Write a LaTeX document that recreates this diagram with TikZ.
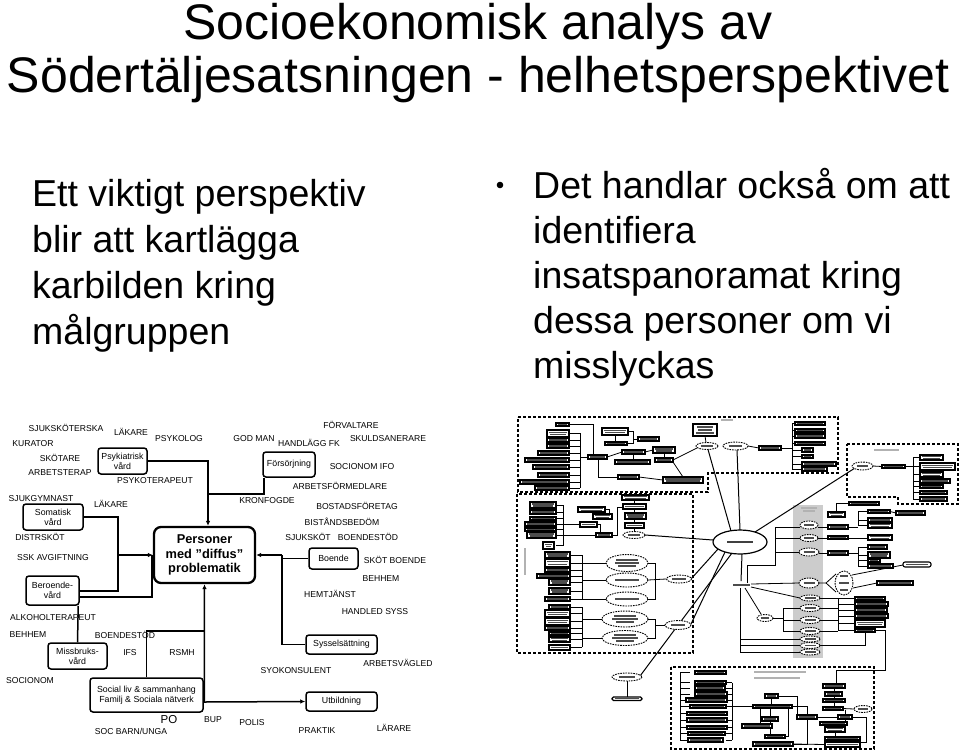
\documentclass[tikz,border=0pt]{standalone}
\usepackage{fontspec}
\setmainfont{Liberation Sans}
\usetikzlibrary{arrows.meta,calc}
\tikzset{
  lbl/.style={font=\fontsize{8.6}{9}\selectfont, inner sep=0pt},
  sbox/.style={draw, line width=1.5pt, rounded corners=3pt, align=center, inner sep=0pt, font=\fontsize{8.8}{10}\selectfont},
  conn/.style={line width=1.5pt},
  arr/.style={line width=1.5pt, -{Latex[length=5pt,width=4.5pt]}},
  bigtxt/.style={font=\fontsize{37.5}{45}\selectfont, inner sep=0pt, anchor=base west},
  ttl/.style={font=\fontsize{50}{55}\selectfont, inner sep=0pt, anchor=base},
  rb/.style={draw, line width=1.1pt, fill=white},
  ph/.style={line width=1.1pt, black!70},
  de/.style={draw, dashed, dash pattern=on 1.6pt off 1pt, line width=0.9pt, fill=white},
  ln/.style={line width=0.8pt},
  reg/.style={line width=1.5pt, dash pattern=on 3pt off 2pt}
}
\newcommand\Rbx[4]{\draw[rb] (#1,#2) rectangle (#3,#4); \draw[ph] ({#1+1.8},{(#2+#4)/2}) -- ({#3-1.8},{(#2+#4)/2});}
\newcommand\Rbxb[4]{\draw[rb] (#1,#2) rectangle (#3,#4); \draw[ph] ({#1+1.8},{#2+(#4-#2)/3}) -- ({#3-1.8},{#2+(#4-#2)/3}); \draw[ph] ({#1+3},{#2+2*(#4-#2)/3}) -- ({#3-3},{#2+2*(#4-#2)/3});}
\newcommand\Dell[4]{\draw[de] (#1,#2) ellipse [x radius=#3, y radius=#4]; \draw[ph] ({#1-0.55*#3},#2) -- ({#1+0.55*#3},#2);}
\begin{document}
\begin{tikzpicture}[x=1pt,y=-1pt]
\fill[white] (0,0) rectangle (960,755);
\path[use as bounding box] (0,0) rectangle (960,755);

% ---------------- title and texts
\node[ttl] (t1) at (478,39) {Socioekonomisk analys av};
\node[ttl] (t2) at (478,92) {Södertäljesatsningen - helhetsperspektivet};

\node[bigtxt] (l1) at (32,206) {Ett viktigt perspektiv};
\node[bigtxt] (l2) at (32,252) {blir att kartlägga};
\node[bigtxt] (l3) at (32,298) {karbilden kring};
\node[bigtxt] (l4) at (32,344) {målgruppen};

\fill (500,185) circle [radius=3.3];
\node[bigtxt] (r1) at (533,198) {Det handlar också om att};
\node[bigtxt] (r2) at (533,243) {identifiera};
\node[bigtxt] (r3) at (533,288) {insatspanoramat kring};
\node[bigtxt] (r4) at (533,333) {dessa personer om vi};
\node[bigtxt] (r5) at (533,378) {misslyckas};

% ---------------- left diagram: boxes
\node[draw, line width=2.3pt, rounded corners=7pt, minimum width=101pt, minimum height=56pt, align=center,
      font=\bfseries\fontsize{12.8}{14.5}\selectfont, inner sep=0pt] (pers) at (204.5,555)
      {Personer\\med "diffus"\\problematik};
\node[sbox, minimum width=49pt, minimum height=26pt] (psyk) at (122.5,461) {Psykiatrisk\\vård};
\node[sbox, minimum width=60pt, minimum height=26pt] (som) at (53,517) {Somatisk\\vård};
\node[sbox, minimum width=53pt, minimum height=29pt] (ber) at (52.5,590.5) {Beroende-\\vård};
\node[sbox, minimum width=59pt, minimum height=26pt] (mis) at (77.5,656) {Missbruks-\\vård};
\node[sbox, minimum width=113pt, minimum height=34pt] (soc) at (146.5,695) {Social liv \& sammanhang\\Familj \& Sociala nätverk};
\node[sbox, minimum width=52pt, minimum height=25pt] (fors) at (289,464.5) {Försörjning};
\node[sbox, minimum width=49pt, minimum height=21pt] (boe) at (333.5,558.5) {Boende};
\node[sbox, minimum width=71pt, minimum height=19pt] (syss) at (341.5,644.5) {Sysselsättning};
\node[sbox, minimum width=71pt, minimum height=19pt] (utb) at (341.5,701.5) {Utbildning};

% junction points
\coordinate (jF) at (208,494);
\coordinate (jS) at (118,555);
\coordinate (jB) at (152,555);
\coordinate (jBo) at (282,555);
\coordinate (jSo) at (205,631);

% connectors
\draw[arr] (psyk.east) -| ([xshift=3.5]pers.north);
\draw[conn] ([xshift=1.5]fors.south west) |- (jF);
\draw[conn] (som.east) -| (jS);
\draw[arr] (jS) -- (pers.west);
\draw[conn] ([yshift=-0.5]ber.east) -| (jS);
\draw[conn] ([yshift=-6.5]ber.east) -| (jB);
\draw[conn] ([xshift=-1.5]ber.south east) -- (mis.north);
\draw[conn] (boe.west) -- ([yshift=-3.5]jBo);
\draw[conn] (syss.west) -| (jBo);
\draw[arr] (jBo) -- (pers.east);
\draw[conn] (soc.north) |- (jSo);
\draw[arr] ([xshift=0.5,yshift=-7]soc.east) -- (pers.south);
\draw[arr] ([yshift=-7]soc.east) -- (utb.west);

% labels
\node[lbl] (a1) at (66,428) {SJUKSKÖTERSKA};
\node[lbl] (a2) at (131,432) {LÄKARE};
\node[lbl] (a3) at (179,439) {PSYKOLOG};
\node[lbl] (a4) at (33,444) {KURATOR};
\node[lbl] (a5) at (60,458) {SKÖTARE};
\node[lbl] (a6) at (60,473) {ARBETSTERAP};
\node[lbl] (a7) at (155,481) {PSYKOTERAPEUT};
\node[lbl] (a8) at (254,439) {GOD MAN};
\node[lbl] (a9) at (309,443) {HANDLÄGG FK};
\node[lbl] (a10) at (351,425) {FÖRVALTARE};
\node[lbl] (a11) at (388,439) {SKULDSANERARE};
\node[lbl] (a12) at (362,467) {SOCIONOM IFO};
\node[lbl] (a13) at (340,486) {ARBETSFÖRMEDLARE};
\node[lbl] (a14) at (267,501) {KRONFOGDE};
\node[lbl] (a15) at (357,506) {BOSTADSFÖRETAG};
\node[lbl] (a16) at (342,522) {BISTÅNDSBEDÖM};
\node[lbl] (a17) at (308,537) {SJUKSKÖT};
\node[lbl] (a18) at (368,537) {BOENDESTÖD};
\node[lbl] (a19) at (395,560) {SKÖT BOENDE};
\node[lbl] (a20) at (381,579) {BEHHEM};
\node[lbl] (a21) at (330,594) {HEMTJÄNST};
\node[lbl] (a22) at (375,612) {HANDLED SYSS};
\node[lbl] (a23) at (398,663) {ARBETSVÄGLED};
\node[lbl] (a24) at (296,671) {SYOKONSULENT};
\node[lbl] (a25) at (317,731) {PRAKTIK};
\node[lbl] (a26) at (394,728) {LÄRARE};
\node[lbl] (a27) at (252,723) {POLIS};
\node[lbl] (a28) at (213,720) {BUP};
\node[lbl, font=\fontsize{11.5}{12}\selectfont] (a29) at (169,720) {PO};
\node[lbl] (a30) at (131,731) {SOC BARN/UNGA};
\node[lbl] (a31) at (30,681) {SOCIONOM};
\node[lbl] (a32) at (130,653) {IFS};
\node[lbl] (a33) at (182,653) {RSMH};
\node[lbl] (a34) at (125,635) {BOENDESTÖD};
\node[lbl] (a35) at (28,635) {BEHHEM};
\node[lbl] (a36) at (53,618) {ALKOHOLTERAPEUT};
\node[lbl] (a37) at (53,558) {SSK AVGIFTNING};
\node[lbl] (a38) at (40,537) {DISTRSKÖT};
\node[lbl] (a39) at (41,499) {SJUKGYMNAST};
\node[lbl] (a40) at (111,504) {LÄKARE};

% ---------------- right diagram (drawn directly)
\fill[gray!40] (793,505) rectangle (823,658);
\draw[reg] (518,417) -- (838,417) -- (838,473) -- (708,473) -- (708,492) -- (518,492) -- cycle;
\draw[reg] (517,494) rectangle (693,653);
\draw[reg] (847,444) -- (958,444) -- (958,504) -- (898,504) -- (898,497) -- (847,497) -- cycle;
\draw[reg] (671,667) rectangle (874,749);
% region labels (illegible text)
\draw[ph, gray!60] (721,420) -- (733,420);
\draw[ph, gray!60] (874,450) -- (899,450);
\draw[ph, gray!60, line width=1.3pt] (754,672) -- (806,672);
\draw[ph, gray!60, line width=1.3pt] (754,678) -- (800,678);
\draw[ph, gray!60] (525,548) -- (525,575);
\draw[ph, gray!60] (801,508) -- (817,508);
\draw[ph, gray!60] (803,511) -- (815,511);

% lines top region
\draw[ln] (580,433) -- (580,488);
\foreach \y in {433.5,440,446,453,460,467,475,482,488} {\draw[ln] (569,\y) -- (580,\y);}
\draw[ln] (580,457) -- (588,457);
\draw[ln] (569,424.5) -- (593,424.5) -- (593,455);
\draw[ln] (607,457) -- (622,452);
\draw[ln] (598,459) -- (598,477) -- (618,477);
\draw[ln] (639,477) -- (663,480);
\draw[ln] (615,435) -- (615,442);
\draw[ln] (627,431) -- (633,431) -- (633,443.5) -- (627,443.5);
\draw[ln] (633,439) -- (638,439);
\draw[ln] (633,454) -- (633,460);
\draw[ln] (645,452) -- (653,450);
\draw[ln] (664,453) -- (664,458);
\draw[ln] (673,460) -- (697,448);
\draw[ln] (683,477) -- (673,462);
\draw[ln] (705,436) -- (706,442.5);
\draw[ln] (748,446) -- (759,448);
\draw[ln] (781,448) -- (792,448);
\draw[ln] (792,423.5) -- (792,469);
\foreach \y in {423.5,430.5,436,443.5} {\draw[ln] (792,\y) -- (795,\y);}
\foreach \y in {450,456.5,464,469} {\draw[ln] (792,\y) -- (802,\y);}

% radiating lines from centre
\draw[ln, line width=1pt] (731,531) -- (708,449.5);
\draw[ln, line width=1pt] (740,530) -- (737,450);
\draw[ln, line width=1pt] (755,532) -- (855,468);
\draw[ln, line width=1pt] (713,540) -- (645,535);
\draw[ln, line width=1pt] (718,549) -- (691,579);
\draw[ln, line width=1pt] (725,552) -- (691,624);
\draw[ln, line width=1pt] (732,553) -- (640,676);
\draw[ln, line width=1pt] (742,554) -- (741,581);

% right region lines
\draw[ln] (873,466) -- (882,466.5);
\draw[ln] (905,466.5) -- (913,466.5);
\draw[ln] (913,457) -- (913,499);
\foreach \y in {457.5,466.5,474.5,481,486.5,492.5,499} {\draw[ln] (913,\y) -- (920,\y);}

% left-mid lines
\draw[ln] (634,500) -- (634,504);
\draw[ln] (634,509) -- (634,513);
\draw[ln] (634,519) -- (634,523);
\draw[ln] (634,528) -- (634,531.5);
\draw[ln] (563,505) -- (563,546);
\foreach \y in {505,512,518.5,524,529.5,535,545.5} {\draw[ln] (556,\y) -- (563,\y);}
\draw[ln] (563,524.5) -- (580,524.5);
\draw[ln] (563,535) -- (596,535);
\draw[ln] (597,524.5) -- (600,524.5) -- (600,533);
\draw[ln] (605,509.5) -- (609,509.5) -- (609,514);
\draw[ln] (612,535) -- (617,535) -- (617,507) -- (623,507);
\draw[ln] (582,555) -- (582,599);
\foreach \y in {555,563,570,576,582,591,599} {\draw[ln] (570,\y) -- (582,\y);}
\draw[ln] (582,563) -- (606,563);
\draw[ln] (582,580) -- (606,580);
\draw[ln] (582,599) -- (606,599);
\draw[ln] (582,607) -- (582,647);
\foreach \y in {607,613.5,621.5,628,633.5,639.5,647.5} {\draw[ln] (570,\y) -- (582,\y);}
\draw[ln] (582,619) -- (602,619);
\draw[ln] (582,638) -- (602,638);
\draw[ln] (648,563) -- (655,563) -- (655,599) -- (648,599);
\draw[ln] (648,580) -- (666,579);
\draw[ln] (648,619) -- (655,619) -- (655,638) -- (648,638);
\draw[ln] (655,625) -- (665,625);
\draw[ln] (627,681) -- (627,697);

% right / grey column lines
\draw[ln] (836,512) -- (836,503.5) -- (849,503.5);
\draw[ln] (818,527) -- (828,527);
\draw[ln] (848,527) -- (858,527);
\draw[ln] (858,511.5) -- (858,525.5);
\foreach \y in {511.5,520,525.5} {\draw[ln] (858,\y) -- (868,\y);}
\draw[ln] (890,511.5) -- (896,513);
\draw[ln] (818,538) -- (828,538);
\draw[ln] (848,538) -- (868,538);
\draw[ln] (819,553) -- (828,553);
\draw[ln] (848,553) -- (858,553);
\draw[ln] (858,547) -- (858,566);
\foreach \y in {547,555,560.5,566} {\draw[ln] (858,\y) -- (868,\y);}
\draw[ln] (775,527) -- (775,565) -- (747,565) -- (747,583);
\draw[ln] (775,527) -- (800,527);
\draw[ln] (775,538) -- (800,538);
\draw[ln] (775,552) -- (799,552);
\draw[ln] (751,584) -- (799,583);
\draw[ln] (819,583) -- (826,583) -- (836,574);
\draw[ln] (826,583) -- (836,592);
\draw[ln] (852,575) -- (903,565);
\draw[ln] (853,588) -- (877,583);
\draw[ln] (751,587) -- (800,598);
\draw[ln] (745,588) -- (761,614);
\draw[ln] (773,618) -- (783,618);
\draw[ln] (783,608) -- (783,631);
\foreach \y in {608,620,631} {\draw[ln] (783,\y) -- (800,\y);}
\draw[ln] (838,598) -- (838,631);
\foreach \y in {598,608,620,631} {\draw[ln] (820,\y) -- (838,\y);}
\foreach \y in {598.5,604,610,616,623.5,630.5} {\draw[ln] (838,\y) -- (855,\y);}
\draw[ln] (740,588) -- (740,652);
\foreach \y in {639,645,652} {\draw[ln] (740,\y) -- (800,\y);}
\draw[ln] (820,645) -- (865,645) -- (865,632);
\draw[ln] (875,630.5) -- (885,630.5) -- (885,670) -- (836,670) -- (836,684);

% bottom region lines
\draw[ln] (680,672.5) -- (680,740) ;
\foreach \y in {672.5,682.5,688,694,700,706.5,713.5,720,727.5,733.5,740} {\draw[ln] (680,\y) -- (690,\y);}
\draw[ln] (732,682.5) -- (732,740);
\foreach \y in {682.5,688,694,700,706.5,720,727.5,733.5,740} {\draw[ln] (726,\y) -- (732,\y);}
\draw[ln] (732,706.5) -- (753,706.5);
\draw[ln] (771.5,698) -- (771.5,705);
\draw[ln] (760,708) -- (760,724);
\draw[ln] (770,708) -- (770,717);
\draw[ln] (770,721) -- (770,735);
\draw[ln] (785,736.5) -- (788,736.5) -- (788,708);
\draw[ln] (792,706.5) -- (807,706.5) -- (807,715);
\draw[ln] (807,719) -- (807,744) -- (793,744);
\draw[ln] (817,717) -- (838,717);
\draw[ln] (834,688) -- (834,692);
\draw[ln] (834,696) -- (834,699);
\draw[ln] (834,702) -- (834,707);
\draw[ln] (843,708.5) -- (854,709);
\draw[ln] (845,710) -- (845,715);
\draw[ln] (845,719) -- (845,722);
\draw[ln] (834,725) -- (834,727);
\draw[ln] (835,732) -- (835,737);
\draw[ln] (852,717) -- (866,717) -- (866,742) -- (860,742);
\draw[ln] (793,744) -- (825,744.5);
\draw[ln] (778,696) -- (797,696) -- (797,715);

% boxes top region
\Rbx{556}{423}{569}{426}
\Rbxb{547}{430}{569}{437}
\Rbx{547}{438}{569}{442}
\Rbx{547}{444}{569}{448}
\Rbx{538}{451}{569}{455}
\Rbx{525}{458}{569}{462}
\Rbx{533}{465}{569}{469}
\Rbx{538}{473}{569}{477}
\Rbx{520}{480}{569}{484}
\Rbx{535}{486}{569}{490}
\Rbx{588}{455}{607}{459}
\Rbxb{602}{428}{628}{435}
\Rbx{605}{442}{627}{445}
\Rbx{638}{437}{659}{441}
\Rbx{622}{450}{645}{454}
\Rbx{615}{460}{650}{464}
\Rbxb{653}{447}{675}{453}
\Rbx{655}{458}{673}{462}
\Rbx{618}{475}{639}{479}
\Rbxb{663}{477}{703}{483}
\draw[rb] (693,424) rectangle (717,436);
\draw[ph] (697,427) -- (713,427); \draw[ph] (698,430) -- (712,430); \draw[ph] (696,433) -- (714,433);
\Dell{707}{446}{11}{3.5}
\Dell{735.5}{446}{12.5}{4}
\Rbx{759}{446}{781}{450}
\Rbx{795}{422}{825}{425}
\Rbx{795}{429}{825}{432}
\Rbx{795}{434}{825}{438}
\Rbx{795}{442}{825}{445}
\Rbx{802}{448}{813}{452}
\Rbx{802}{455}{813}{458}
\Rbx{802}{462}{836}{466}
\Rbx{802}{467}{827}{471}

% right region boxes
\Dell{862.5}{466}{10.5}{4}
\Rbx{882}{465}{905}{468}
\Rbxb{920}{455}{943}{460}
\Rbxb{920}{463}{955}{470}
\Rbxb{920}{472}{943}{477}
\Rbx{920}{479}{950}{483}
\Rbx{920}{485}{943}{488}
\Rbx{920}{491}{947}{494}
\Rbx{920}{497}{947}{501}

% left-mid boxes
\Rbxb{622}{495}{649}{500}
\Rbx{623}{504}{646}{509}
\Rbxb{625}{513}{646}{519}
\Rbx{625}{523}{644}{528}
\Dell{634}{535}{11}{3.5}
\Rbxb{530}{502}{556}{508}
\Rbx{530}{510}{556}{514}
\Rbx{530}{517}{556}{520}
\Rbx{525}{522}{556}{526}
\Rbx{525}{528}{556}{531}
\Rbxb{527}{532}{556}{538}
\Rbxb{543}{542}{554}{549}
\Rbxb{578}{507}{605}{512}
\Rbxb{593}{514}{612}{519}
\Rbx{580}{522}{597}{527}
\Rbx{596}{533}{612}{537}
\Rbxb{545}{552}{570}{558}
\Rbxb{545}{559}{570}{567}
\Rbx{545}{568}{570}{572}
\Rbx{537}{574}{570}{578}
\Rbxb{549}{579}{570}{585}
\Rbxb{549}{588}{570}{594}
\Rbx{545}{597}{570}{601}
\Rbx{549}{605}{570}{609}
\Rbxb{545}{610}{570}{617}
\Rbxb{545}{618}{570}{625}
\Rbx{545}{626}{570}{630}
\Rbx{549}{632}{570}{635}
\Rbxb{549}{637}{570}{642}
\Rbx{549}{645}{570}{650}
\Dell{627}{563}{21}{8.5}
\draw[ph] (616,560) -- (638,560); \draw[ph] (618,566) -- (636,566);
\Dell{627}{580}{21}{7}
\Dell{627}{599}{21}{7}
\Dell{625}{619}{23}{8}
\draw[ph] (614,616) -- (636,616); \draw[ph] (616,622) -- (634,622);
\Dell{625}{638}{23}{7.5}
\draw[ph] (614,635) -- (636,635); \draw[ph] (616,641) -- (634,641);
\Dell{679}{579}{12.5}{4}
\Dell{678}{625}{13}{4.5}
\Dell{627}{677}{15}{4}
\draw[rb, rounded corners=1.5pt] (612,697) rectangle (642,700.5);
\draw[ph] (615,698.75) -- (639,698.75);

% centre ellipse
\draw[line width=1.2pt, fill=white] (740,542) ellipse [x radius=27, y radius=12];
\draw[line width=2pt, gray!50!black] (727,542) -- (753,542);

% hub
\draw[ph] (733,585) -- (750,585);

% right side boxes
\Rbx{849}{502}{879}{505}
\Rbxb{828}{512}{845}{517}
\Dell{809}{525}{9}{4}
\Rbx{828}{525}{848}{529}
\Rbx{868}{510}{890}{513}
\Rbx{896}{511}{925}{515}
\Rbx{868}{518}{892}{522}
\Rbxb{868}{523}{892}{528}
\Dell{809}{538}{9}{3.5}
\Rbx{828}{536}{848}{539}
\Rbxb{868}{535}{892}{540}
\Dell{809}{552}{10}{4}
\Rbx{828}{551}{848}{555}
\Rbx{868}{545}{887}{549}
\Rbxb{868}{552}{890}{558}
\Rbx{868}{559}{880}{562}
\Rbx{868}{564}{893}{568}
\draw[rb, rounded corners=2pt] (903,562) rectangle (931,567);
\draw[ph] (906,564.5) -- (928,564.5);
\Dell{809}{583}{10}{5}
\Dell{844}{583}{9}{12}
\draw[ph] (840,576) -- (848,576); \draw[ph] (840,590) -- (848,590);
\Rbx{877}{581}{913}{585}
\Dell{810}{598}{10}{3}
\Dell{810}{608}{10}{3.5}
\Dell{810}{620}{10}{3.5}
\Dell{810}{631}{10}{3.5}
\Dell{810}{639}{10}{3}
\Dell{810}{645.5}{10}{3}
\Dell{810}{652}{10}{3}
\Dell{765}{618}{8}{3.5}
\Rbx{855}{597}{885}{600}
\Rbx{855}{602}{888}{606}
\Rbx{855}{608}{887}{612}
\Rbx{855}{614}{888}{618}
\Rbxb{855}{620}{885}{627}
\Rbx{855}{629}{875}{632}

% bottom region boxes
\Rbx{695}{671}{726}{674}
\Rbx{695}{681}{726}{684}
\Rbx{695}{686}{725}{690}
\Rbx{695}{692}{727}{696}
\Rbx{686}{698}{727}{702}
\Rbx{690}{705}{726}{708}
\Rbx{687}{712}{727}{715}
\Rbx{687}{718}{727}{722}
\Rbx{687}{726}{727}{729}
\Rbx{688}{732}{725}{735}
\Rbx{688}{738}{723}{742}
\Rbx{765}{694}{778}{698}
\Rbx{753}{705}{792}{708}
\Rbx{762}{717}{778}{721}
\Rbx{742}{724}{772}{728}
\Rbx{765}{735}{785}{738}
\Rbx{753}{742}{793}{746}
\Rbx{797}{715}{817}{719}
\Rbx{823}{684}{845}{688}
\Rbx{825}{692}{842}{696}
\Rbx{823}{699}{845}{702}
\Rbx{823}{707}{843}{710}
\Dell{863}{709}{9}{3.5}
\Rbx{838}{715}{852}{719}
\Rbx{820}{722}{847}{725}
\Rbxb{825}{727}{845}{732}
\Rbx{825}{737}{860}{740}
\Rbx{825}{742}{860}{747}
\end{tikzpicture}
\end{document}
